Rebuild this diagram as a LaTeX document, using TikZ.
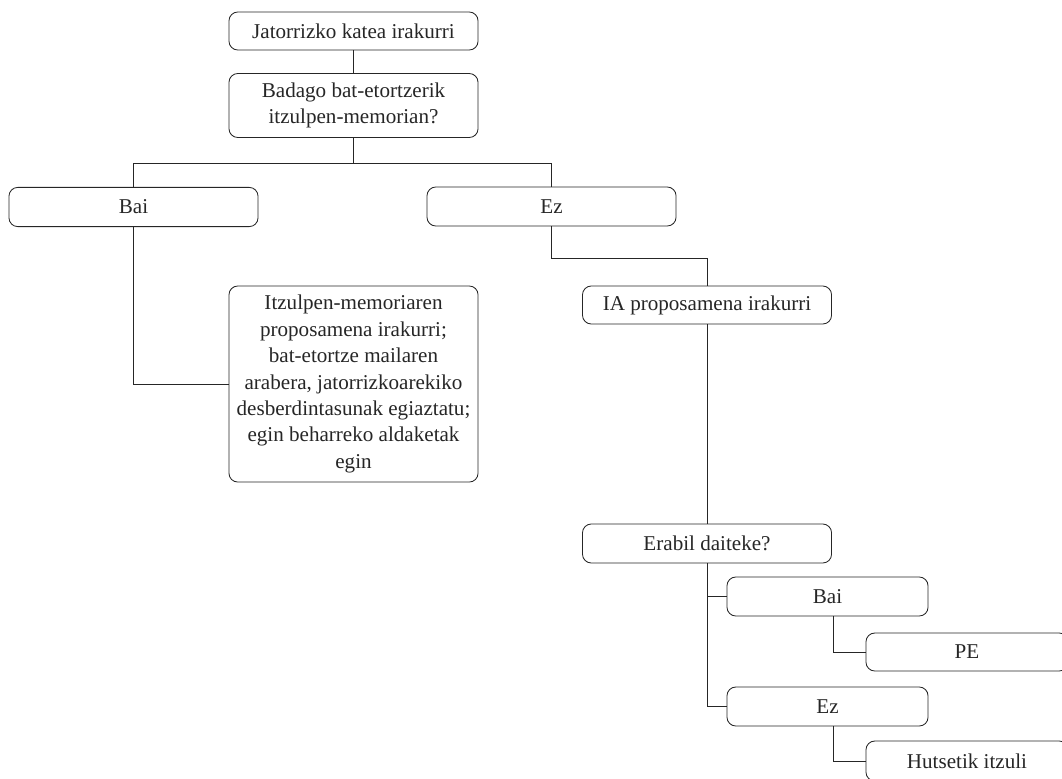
\documentclass[tikz,border=0pt]{standalone}
\usepackage{fontspec}
\setmainfont{Liberation Serif}
\usepackage{tikz}

\begin{document}
\begin{tikzpicture}[x=0.025cm,y=-0.025cm]
              \colorlet{boxcol}{black!85}
              \tikzstyle{box}=[draw=boxcol,text=boxcol,line width=0.6pt,rounded corners=0.22cm,align=center,inner sep=0pt,font=\fontsize{15}{18}\selectfont]
              \tikzstyle{wide box}=[box,minimum width=6.225cm,minimum height=0.95cm]
              \tikzstyle{small box}=[box,minimum width=5.025cm,minimum height=0.975cm]
              \tikzstyle{end box}=[box,minimum width=5.05cm,minimum height=0.95cm]
              \tikzstyle{link}=[boxcol,line width=0.6pt]

              % Frame
              \useasboundingbox (0,0) rectangle (1062,778);
              \clip (0,0) rectangle (1062,778);

              % Question
              \node[wide box] (start) at (353.5,31) {Jatorrizko katea irakurri};
              \node[wide box,minimum height=1.6cm] (query) at (353.5,105.5) {Badago bat-etortzerik\\itzulpen-memorian?};

              % Answers
              \node[wide box,minimum height=0.98cm] (bai) at (133.5,207) {Bai};
              \node[wide box,minimum height=0.975cm] (ez) at (551.5,206.5) {Ez};

              % Memory branch
              \node[wide box,minimum height=4.9cm,font=\fontsize{15}{18.8}\selectfont] (memory) at (353.5,384)
                {Itzulpen-memoriaren\\proposamena irakurri;\\bat-etortze mailaren\\arabera, jatorrizkoarekiko\\desberdintasunak egiaztatu;\\egin beharreko aldaketak\\egin};

              % AI branch
              \node[wide box] (ia) at (707,305) {IA proposamena irakurri};
              \node[wide box,minimum height=0.975cm] (usable) at (707,543.5) {Erabil daiteke?};
              \node[small box] (baiB) at (827.5,596.5) {Bai};
              \node[small box] (ezB) at (827.5,706.5) {Ez};
              \node[end box] (pe) at (967,652) {PE};
              \node[end box,minimum height=1cm] (scratch) at (967,761) {Hutsetik itzuli};

              % Links
              \draw[link] (start) -- (query);
              \draw[link] (query.south) -- ++(0,25) coordinate (split);
              \draw[link] (bai.north) |- (split) -| (ez.north);
              \draw[link] (bai.south) |- (memory.west);
              \draw[link] (ez.south) -- ++(0,32) -| (ia.north);
              \draw[link] (ia) -- (usable);
              \draw[link] (usable.south) |- (baiB.west);
              \draw[link] (usable.south) |- (ezB.west);
              \draw[link] ([xshift=0.16cm]baiB.south) |- (pe.west);
              \draw[link] ([xshift=0.16cm]ezB.south) |- (scratch.west);

            \end{tikzpicture}
\end{document}
